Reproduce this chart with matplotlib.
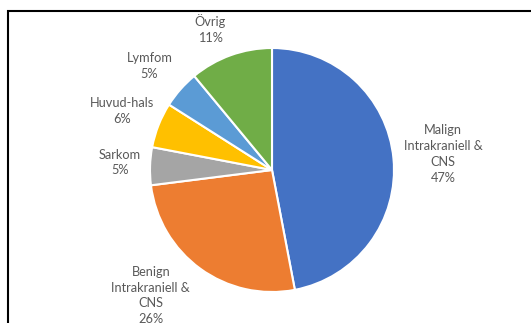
import numpy as np
import matplotlib.pyplot as plt
from matplotlib.patches import Rectangle

# Fördelning av tumörtyper (andel i procent)
categories = ['Malign\nIntrakraniell &\nCNS', 'Benign\nIntrakraniell &\nCNS', 'Sarkom',
              'Huvud-hals', 'Lymfom', 'Övrig']
shares = [47, 26, 5, 6, 5, 11]
colors = ['#4472C4', '#ED7D31', '#A5A5A5', '#FFC000', '#5B9BD5', '#70AD47']

# label placement (radius multiple, angle nudge in degrees)
label_dist = [1.41, 1.43, 1.25, 1.32, 1.32, 1.26]
label_nudge = [0, -8, -1, 0, 1, 4]

plt.rcParams['font.family'] = ['Lato', 'DejaVu Sans']

fig = plt.figure(figsize=(5.31, 3.23), dpi=100)
ax = fig.add_axes([0, 0, 1, 1])

wedges, _ = ax.pie(shares, colors=colors, startangle=90, counterclock=False,
                   radius=1.0, wedgeprops=dict(edgecolor='white', linewidth=1.5))

for w, name, val, d, nudge in zip(wedges, categories, shares, label_dist, label_nudge):
    ang = np.deg2rad((w.theta1 + w.theta2) / 2 + nudge)
    ax.text(d * np.cos(ang), d * np.sin(ang), f'{name}\n{val}%',
            ha='center', va='center', fontsize=9.2, color='#595959', linespacing=1.38)

ax.set_xlim(-272 / 122, (531 - 272) / 122)
ax.set_ylim((170 - 323) / 122, 170 / 122)
ax.set_aspect('auto')
ax.axis('off')

# chart frame (open on right and bottom)
fig.patches.append(Rectangle((7.5 / 531, -0.1), 1.2, (323 - 11) / 323 + 0.1,
                             transform=fig.transFigure, fill=False,
                             edgecolor='black', linewidth=1.5))

fig.savefig('out.png', dpi=100)
